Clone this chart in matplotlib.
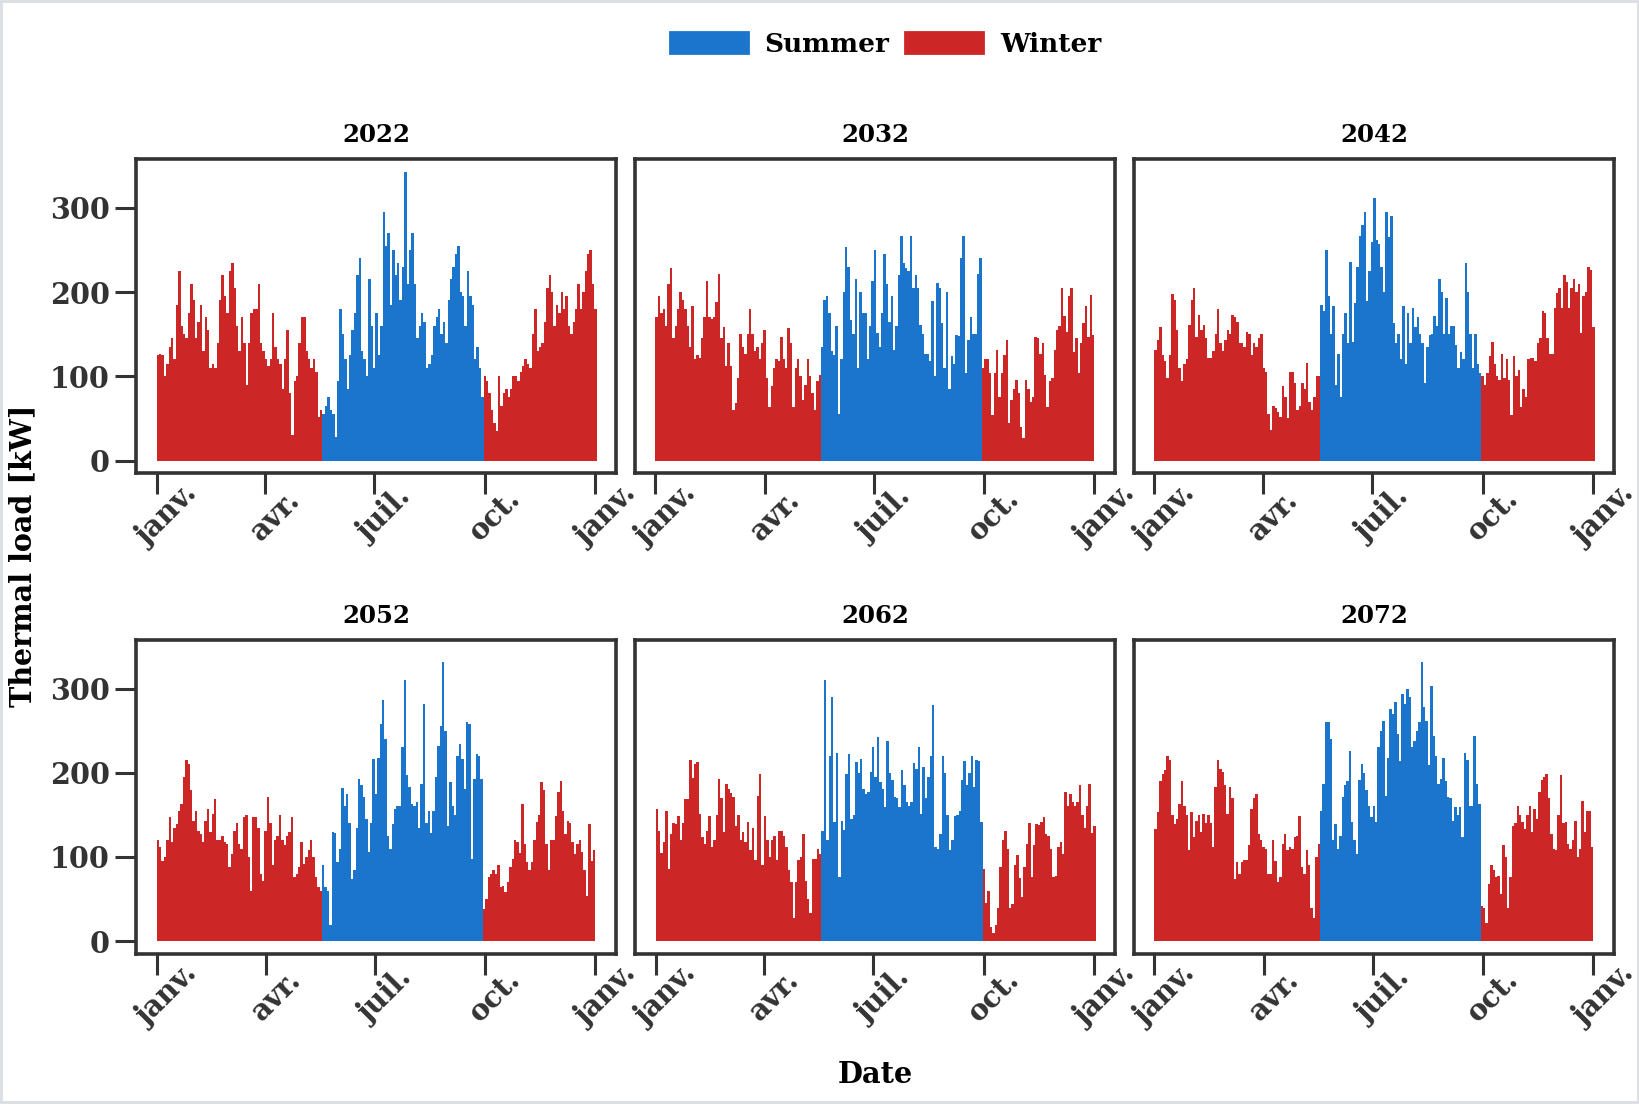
import numpy as np
import matplotlib
matplotlib.use("Agg")
import matplotlib.pyplot as plt
import matplotlib.dates as mdates
from matplotlib.patches import Patch
from matplotlib.ticker import FuncFormatter

# thermal load [kW], one value per 2-day step starting on 1 January
load_2022 = [125, 127, 125, 100, 115, 135, 145, 120, 185, 225, 160, 150, 145, 175, 210, 190, 145, 165, 185, 130,
             170, 155, 110, 115, 110, 140, 190, 220, 195, 175, 225, 235, 205, 160, 130, 170, 140, 90, 140, 175,
             180, 180, 210, 140, 130, 120, 112, 120, 175, 135, 120, 115, 85, 120, 155, 80, 30, 95, 100, 140,
             170, 170, 130, 120, 110, 120, 105, 52, 60,
             55, 65, 75, 60, 55, 28, 95, 180, 150, 120, 85, 125, 155, 175, 220, 240, 130, 120, 100, 215,
             160, 110, 175, 125, 160, 295, 255, 270, 185, 250, 220, 235, 190, 230, 343, 210, 250, 270, 210, 145,
             160, 175, 165, 110, 115, 125, 160, 170, 180, 150, 165, 140, 190, 215, 230, 245, 255, 200, 195, 160,
             225, 195, 185, 120, 135, 110, 75,
             100, 95, 80, 60, 45, 35, 100, 65, 80, 85, 75, 85, 100, 100, 95, 105, 112, 120, 115, 110,
             150, 180, 130, 135, 140, 165, 205, 220, 200, 160, 185, 175, 200, 180, 195, 160, 150, 165, 180, 210,
             180, 200, 225, 245, 250, 210, 180]
load_2032 = [170, 195, 175, 180, 160, 210, 228, 145, 160, 180, 200, 190, 180, 160, 135, 183, 120, 125, 122, 145,
             170, 213, 170, 168, 170, 188, 222, 145, 158, 112, 139, 112, 60, 68, 98, 150, 135, 127, 150, 180,
             150, 130, 135, 120, 140, 155, 98, 64, 88, 110, 120, 118, 147, 120, 110, 157, 140, 64, 110, 120,
             100, 72, 90, 120, 100, 80, 60, 95, 102,
             135, 191, 195, 175, 130, 125, 160, 55, 120, 200, 254, 230, 167, 150, 215, 110, 200, 175, 175, 120,
             160, 213, 250, 151, 135, 175, 245, 210, 165, 195, 131, 160, 220, 266, 235, 228, 225, 266, 205, 220,
             205, 161, 150, 127, 127, 118, 189, 100, 211, 205, 163, 110, 200, 85, 124, 115, 149, 148, 240, 267,
             104, 143, 170, 150, 150, 222, 240,
             110, 120, 120, 104, 54, 104, 131, 76, 104, 125, 143, 44, 72, 85, 96, 80, 40, 27, 96, 85,
             70, 75, 147, 145, 127, 140, 102, 64, 95, 98, 131, 155, 160, 205, 171, 153, 195, 205, 129, 145,
             104, 140, 163, 183, 147, 197, 149]
load_2042 = [131, 143, 158, 125, 118, 98, 125, 198, 190, 155, 110, 95, 115, 120, 161, 190, 205, 147, 173, 155,
             161, 145, 122, 122, 130, 150, 180, 140, 130, 143, 155, 150, 173, 170, 165, 140, 140, 135, 153, 150,
             125, 140, 135, 145, 150, 110, 105, 55, 36, 65, 62, 58, 52, 88, 75, 50, 105, 105, 92, 60,
             65, 92, 85, 116, 70, 60, 75, 100, 100,
             185, 177, 250, 195, 150, 183, 90, 127, 75, 150, 175, 140, 236, 141, 187, 230, 266, 280, 295, 189,
             225, 260, 312, 262, 257, 230, 200, 295, 265, 290, 163, 140, 150, 120, 183, 115, 175, 140, 181, 159,
             170, 150, 140, 92, 135, 149, 150, 171, 160, 215, 200, 150, 193, 150, 160, 160, 137, 110, 129, 120,
             234, 200, 150, 110, 150, 115, 104,
             100, 90, 104, 124, 141, 115, 100, 96, 127, 98, 120, 96, 54, 124, 100, 108, 64, 85, 75, 120,
             122, 122, 118, 139, 145, 177, 175, 145, 127, 127, 181, 199, 205, 181, 220, 212, 181, 205, 216, 200,
             209, 151, 195, 200, 230, 226, 159]
load_2052 = [120, 112, 95, 100, 120, 148, 118, 135, 139, 155, 163, 195, 215, 210, 179, 143, 155, 131, 127, 118,
             143, 157, 130, 151, 169, 120, 120, 125, 118, 115, 88, 104, 131, 140, 115, 110, 147, 150, 100, 60,
             147, 147, 135, 80, 72, 131, 171, 140, 90, 120, 125, 150, 120, 114, 125, 130, 147, 76, 80, 88,
             118, 92, 100, 108, 120, 100, 76, 64, 60,
             90, 64, 60, 19, 130, 129, 94, 110, 182, 160, 175, 140, 74, 84, 135, 193, 185, 171, 145, 106,
             140, 216, 175, 218, 258, 286, 240, 125, 110, 139, 157, 160, 161, 230, 310, 197, 183, 163, 160, 165,
             135, 187, 282, 140, 155, 129, 155, 195, 232, 256, 331, 250, 137, 189, 161, 150, 220, 234, 216, 181,
             260, 258, 98, 193, 222, 220, 193,
             38, 50, 76, 80, 84, 80, 90, 64, 65, 58, 70, 88, 98, 120, 118, 105, 163, 115, 94, 85,
             94, 120, 141, 150, 189, 180, 115, 84, 120, 120, 149, 177, 190, 155, 127, 143, 140, 118, 104, 115,
             120, 106, 85, 54, 139, 95, 108]
load_2062 = [157, 131, 105, 118, 155, 86, 127, 140, 139, 149, 120, 140, 169, 169, 215, 194, 210, 213, 151, 124,
             116, 131, 149, 112, 120, 150, 193, 170, 130, 187, 181, 176, 171, 137, 150, 120, 130, 118, 141, 108,
             135, 96, 173, 199, 90, 149, 120, 100, 120, 125, 96, 131, 131, 125, 112, 84, 70, 28, 70, 96,
             100, 127, 72, 50, 34, 98, 98, 110, 104,
             131, 310, 120, 220, 290, 141, 224, 76, 143, 132, 199, 222, 145, 150, 213, 200, 216, 181, 175, 177,
             201, 230, 195, 242, 189, 181, 159, 238, 200, 191, 171, 170, 159, 203, 185, 165, 160, 165, 211, 205,
             230, 151, 207, 170, 195, 220, 280, 112, 110, 127, 220, 200, 150, 108, 120, 149, 150, 155, 191, 214,
             185, 200, 220, 183, 215, 214, 141,
             86, 45, 60, 17, 10, 19, 40, 88, 120, 131, 110, 40, 44, 90, 102, 75, 52, 88, 116, 140,
             76, 114, 139, 138, 141, 147, 127, 125, 110, 76, 78, 112, 118, 104, 177, 160, 175, 165, 160, 165,
             185, 150, 135, 161, 187, 129, 137]
load_2072 = [133, 153, 190, 198, 203, 220, 215, 150, 139, 145, 163, 190, 161, 150, 108, 153, 124, 143, 150, 130,
             151, 140, 150, 140, 112, 183, 215, 205, 201, 185, 151, 183, 170, 74, 94, 80, 94, 96, 96, 114,
             157, 170, 175, 127, 120, 112, 110, 80, 80, 120, 95, 70, 76, 116, 127, 108, 112, 110, 124, 125,
             149, 88, 80, 108, 90, 40, 28, 100, 116,
             155, 187, 260, 260, 240, 120, 139, 110, 125, 171, 185, 190, 226, 141, 120, 104, 191, 210, 200, 179,
             160, 147, 160, 141, 230, 250, 262, 173, 218, 276, 270, 284, 246, 214, 294, 282, 300, 290, 230, 238,
             250, 260, 331, 278, 262, 209, 303, 244, 220, 187, 193, 218, 190, 171, 170, 143, 159, 150, 159, 124,
             224, 215, 161, 160, 244, 187, 163,
             42, 40, 22, 68, 90, 84, 76, 78, 56, 114, 100, 40, 76, 137, 140, 160, 150, 141, 133, 150,
             161, 130, 157, 145, 177, 191, 195, 199, 170, 127, 110, 108, 150, 197, 140, 141, 115, 110, 120, 143,
             100, 110, 167, 130, 155, 155, 112]

years = [2022, 2032, 2042, 2052, 2062, 2072]
loads = [load_2022, load_2032, load_2042, load_2052, load_2062, load_2072]
step_days = 2
summer_start = "05-18"
summer_end = "09-28"
fr_months = {1: "janv.", 4: "avr.", 7: "juil.", 10: "oct."}

summer_color = "#1b75cc"
winter_color = "#cc2626"
dark = "#333333"

plt.rcParams["font.family"] = ["DejaVu Serif"]
plt.rcParams["font.weight"] = "bold"

fig, axes = plt.subplots(2, 3, figsize=(8.2, 5.52), dpi=200, sharey=True,
                         edgecolor="#dce0e4", linewidth=2)
fig.subplots_adjust(left=0.083, right=0.984, top=0.856, bottom=0.136, wspace=0.04, hspace=0.53)

for k, (ax, year, vals) in enumerate(zip(axes.flat, years, loads)):
    start = np.datetime64(f"{year}-01-01")
    dates = start + np.arange(len(vals)) * np.timedelta64(step_days, "D")
    summer = (dates >= np.datetime64(f"{year}-{summer_start}")) & \
             (dates <= np.datetime64(f"{year}-{summer_end}"))
    colors = np.where(summer, summer_color, winter_color)
    ax.bar(dates, vals, width=step_days, align="edge", color=colors, linewidth=0)

    ax.set_xlim(start - np.timedelta64(17, "D"), np.datetime64(f"{year + 1}-01-01") + np.timedelta64(17, "D"))
    ax.set_ylim(-15, 358)
    ax.set_yticks([0, 100, 200, 300])
    ax.xaxis.set_major_locator(mdates.MonthLocator(bymonth=[1, 4, 7, 10]))
    ax.xaxis.set_major_formatter(FuncFormatter(lambda x, pos: fr_months[mdates.num2date(x).month]))
    ax.set_title(str(year), fontsize=8.8, fontweight="bold", color="black")

    for sp in ax.spines.values():
        sp.set_color(dark)
        sp.set_linewidth(1.3)
    ax.tick_params(axis="both", length=7.5, width=1.1, color=dark, labelcolor=dark, labelsize=10.3)
    ax.tick_params(axis="y", pad=2)
    ax.tick_params(axis="x", pad=4)
    if k % 3 != 0:
        ax.tick_params(axis="y", left=False)
    for lab in ax.get_xticklabels():
        lab.set_rotation(45)
        lab.set_rotation_mode("anchor")
        lab.set_ha("center")
        lab.set_va("top")

fig.text(0.014, 0.497, "Thermal load [kW]", rotation=90, ha="center", va="center",
         fontsize=10.3, fontweight="bold", color="black")
fig.text(0.534, 0.027, "Date", ha="center", va="center", fontsize=10.4, fontweight="bold", color="black")

handles = [Patch(color=summer_color, label="Summer"), Patch(color=winter_color, label="Winter")]
fig.legend(handles=handles, loc="center", bbox_to_anchor=(0.540, 0.960), ncol=2, frameon=False,
           fontsize=9.5, handlelength=2.95, handleheight=0.87, columnspacing=0.6, handletextpad=0.64)

fig.savefig("out.png", dpi=200, edgecolor=fig.get_edgecolor())
